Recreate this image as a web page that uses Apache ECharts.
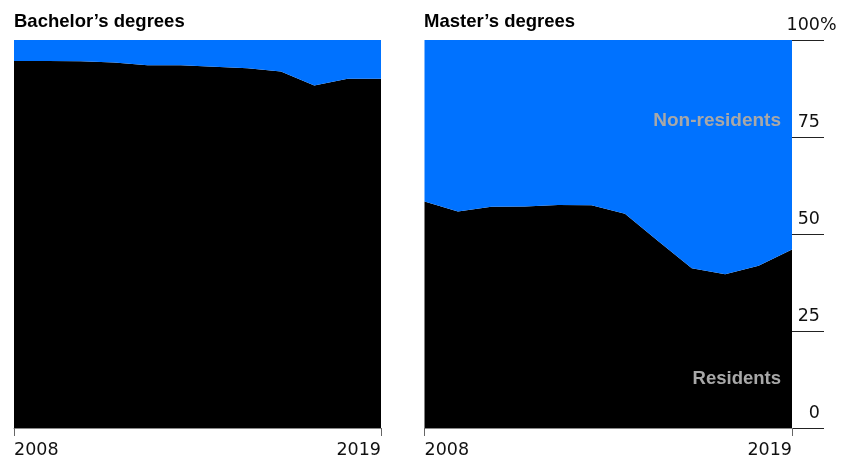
<!DOCTYPE html>
<html>
<head>
<meta charset="utf-8">
<script src="https://cdn.jsdelivr.net/npm/echarts@6/dist/echarts.min.js"></script>
<style>
  html, body { margin: 0; padding: 0; background: #fff; }
  #chart { width: 841px; height: 459px; }
</style>
</head>
<body>
<div id="chart"></div>
<script>
// Share of degrees awarded, residents vs non-residents (%)
const years = ['2008','2009','2010','2011','2012','2013','2014','2015','2016','2017','2018','2019'];

const bachelorResidents    = [94.6, 94.6, 94.5, 94.2, 93.5, 93.5, 93.1, 92.7, 91.9, 88.3, 90.0, 90.0];
const bachelorNonResidents = [5.4, 5.4, 5.5, 5.8, 6.5, 6.5, 6.9, 7.3, 8.1, 11.7, 10.0, 10.0];

const masterResidents    = [58.4, 55.8, 57.0, 57.1, 57.5, 57.4, 55.2, 48.1, 41.2, 39.6, 41.8, 46.0];
const masterNonResidents = [41.6, 44.2, 43.0, 42.9, 42.5, 42.6, 44.8, 51.9, 58.8, 60.4, 58.2, 54.0];

const yTicks = [0, 25, 50, 75, 100];
const panelTitles = ['Bachelor’s degrees', 'Master’s degrees'];

const BLUE = '#0072ff';
const LABEL_GREY = '#a8a8a8';
const NUM_FONT = '"DejaVu Sans", sans-serif';
const TITLE_FONT = '"Liberation Sans", Arial, sans-serif';

const chart = echarts.init(document.getElementById('chart'), null, { renderer: 'canvas' });

const lastIdx = years.length - 1;
const endsOnly = (i) => i === 0 || i === lastIdx;

function xAxisFor(gridIndex) {
  return {
    type: 'category',
    gridIndex,
    data: years,
    boundaryGap: false,
    axisLine: { show: true, lineStyle: { color: '#8a8a8a', width: 1 } },
    axisTick: { show: true, interval: endsOnly, length: 8, lineStyle: { color: '#666', width: 1 } },
    axisLabel: {
      interval: endsOnly,
      margin: 13,
      fontFamily: NUM_FONT,
      fontSize: 17.5,
      color: '#111',
      alignMinLabel: 'left',
      alignMaxLabel: 'right'
    },
    splitLine: { show: false }
  };
}

function areaSeries(name, data, gi, stack, color, extra) {
  return Object.assign({
    name,
    type: 'line',
    xAxisIndex: gi,
    yAxisIndex: gi === 0 ? 0 : 1,
    stack,
    data,
    symbol: 'none',
    silent: true,
    lineStyle: { width: 0 },
    areaStyle: { color, opacity: 1 },
    z: 2
  }, extra || {});
}

function textMark(text, yValue, fontSize) {
  return {
    symbol: 'circle',
    symbolSize: 0,
    silent: true,
    data: [{
      coord: [years[lastIdx], yValue],
      label: {
        show: true,
        formatter: text,
        position: 'left',
        distance: 11,
        color: LABEL_GREY,
        fontFamily: TITLE_FONT,
        fontWeight: 'bold',
        fontSize
      }
    }]
  };
}

const option = {
  animation: false,
  backgroundColor: '#fff',
  title: panelTitles.map((t, i) => ({
    text: t,
    left: i === 0 ? 14 : 424,
    top: 12,
    padding: 0,
    textStyle: { fontFamily: TITLE_FONT, fontWeight: 'bold', fontSize: 18.5, color: '#000' }
  })),
  grid: [
    { left: 14, top: 40, width: 367, height: 388 },
    { left: 424.5, top: 40, width: 367.5, height: 388 }
  ],
  xAxis: [xAxisFor(0), xAxisFor(1)],
  yAxis: [
    { type: 'value', gridIndex: 0, min: 0, max: 100, show: false },
    {
      type: 'value', gridIndex: 1, position: 'right', min: 0, max: 100, interval: 25,
      axisLine: { show: false },
      axisTick: { show: true, inside: false, length: 32, lineStyle: { color: '#222', width: 1 } },
      splitLine: { show: false },
      axisLabel: {
        align: 'right',
        verticalAlign: 'bottom',
        margin: 28,
        padding: [0, 0, 6, 0],
        fontFamily: NUM_FONT,
        fontSize: 17.5,
        color: '#111',
        formatter: (v) => yTicks.includes(v) ? String(v) : ''
      }
    },
    {
      type: 'value', gridIndex: 1, position: 'right', min: 0, max: 100, interval: 25,
      axisLine: { show: false },
      axisTick: { show: false },
      splitLine: { show: false },
      axisLabel: {
        align: 'left',
        verticalAlign: 'bottom',
        margin: 28,
        padding: [0, 0, 6, 0],
        fontFamily: NUM_FONT,
        fontSize: 17.5,
        color: '#111',
        formatter: (v) => v === 100 ? '%' : ''
      }
    }
  ],
  series: [
    areaSeries('Residents', bachelorResidents, 0, 'bachelor', '#000'),
    areaSeries('Non-residents', bachelorNonResidents, 0, 'bachelor', BLUE),
    areaSeries('Residents', masterResidents, 1, 'master', '#000', { markPoint: textMark('Residents', 12.6, 18.5) }),
    areaSeries('Non-residents', masterNonResidents, 1, 'master', BLUE, { markPoint: textMark('Non-residents', 79.3, 19) })
  ]
};

chart.setOption(option);
</script>
</body>
</html>
